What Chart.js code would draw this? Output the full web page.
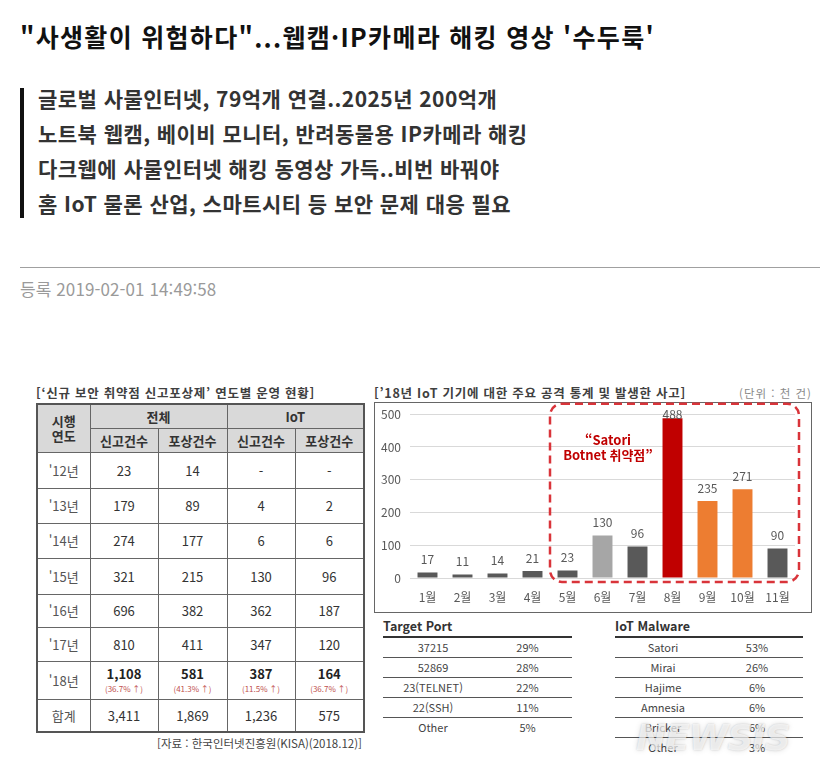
<!DOCTYPE html>
<html lang="ko">
<head>
<meta charset="utf-8">
<script src="https://cdn.jsdelivr.net/npm/chart.js@4.4.0/dist/chart.umd.min.js"></script>
<style>
  html, body { margin:0; padding:0; background:#fff; }
  body { width:827px; height:766px; position:relative; overflow:hidden;
         font-family:"Noto Sans CJK KR","Noto Sans",sans-serif; color:#333; }
  .abs { position:absolute; white-space:nowrap; }
  #title { left:20px; top:19px; font-size:25px; font-weight:700; color:#111; line-height:34px; letter-spacing:1.3px; }
  #bar { left:20px; top:88px; width:4px; height:130px; background:#111; }
  #summary { left:38px; top:81px; font-size:21px; font-weight:700; color:#333; line-height:35px; letter-spacing:0.45px; }
  #rule { left:20px; top:267px; width:800px; height:1px; background:#a0a0a0; }
  #date { left:20px; top:278px; font-size:17px; color:#9a9a9a; line-height:22px; letter-spacing:0.1px; }
  .caption { font-size:12.5px; font-weight:700; color:#404040; line-height:15px; letter-spacing:0.75px; }
  #cap1 { left:36px; top:385px; }
  #cap2 { left:374px; top:385px; }
  #unit { left:712px; width:100px; text-align:right; top:386px; font-size:11.5px; color:#8a8a8a; line-height:14px; letter-spacing:1px; }
  #t1 { position:absolute; left:36px; top:403px; width:327px; border-collapse:collapse; table-layout:fixed;
        border:2px solid #555; font-size:13px; color:#333; }
  #t1 td, #t1 th { border:1px solid #666; text-align:center; padding:0; line-height:15px; }
  #t1 th { background:#d9d9d9; font-weight:700; color:#333; }
  #t1 td.yr { color:#555; }
  #t1 .big { font-weight:700; color:#222; }
  #t1 .grow { font-size:8px; color:#c0504d; line-height:10px; margin-top:3px; font-weight:400; }
  #src { left:140px; width:222px; text-align:right; top:736px; font-size:11.5px; color:#444; line-height:14px; }
  #chartBox { position:absolute; left:374px; top:402px; width:438px; height:211px; border:1px solid #666; box-sizing:border-box; }
  #chartBox canvas { position:absolute; left:0; top:-5px; }
  .mini-title { font-size:12.5px; font-weight:700; color:#333; line-height:16px; }
  .mini { position:absolute; }
  .mini .hd { border-bottom:2px solid #333; height:0; }
  .mini .row { display:flex; height:19px; border-bottom:1px solid #555; font-size:11px; color:#444; line-height:19px; }
  .mini .row.last { border-bottom:none; }
  .mini .row span { display:block; text-align:center; }
  #wm { left:636px; top:718px; font-family:"DejaVu Sans",sans-serif; font-size:36px; font-weight:900; font-style:italic;
        color:rgba(255,255,255,0.7); text-shadow:0 0 2px rgba(0,0,0,0.18), 0 0 6px rgba(0,0,0,0.12); letter-spacing:-1px; line-height:40px; }
</style>
</head>
<body>
<div id="title" class="abs">"사생활이 위험하다"...웹캠·IP카메라 해킹 영상 '수두룩'</div>
<div id="bar" class="abs"></div>
<div id="summary" class="abs">글로벌 사물인터넷, 79억개 연결..2025년 200억개<br>노트북 웹캠, 베이비 모니터, 반려동물용 IP카메라 해킹<br>다크웹에 사물인터넷 해킹 동영상 가득..비번 바꿔야<br>홈 IoT 물론 산업, 스마트시티 등 보안 문제 대응 필요</div>
<div id="rule" class="abs"></div>
<div id="date" class="abs">등록 2019-02-01 14:49:58</div>

<div id="cap1" class="abs caption">[‘신규 보안 취약점 신고포상제’ 연도별 운영 현황]</div>
<table id="t1"></table>
<div id="src" class="abs">[자료 : 한국인터넷진흥원(KISA)(2018.12)]</div>

<div id="cap2" class="abs caption">[’18년 IoT 기기에 대한 주요 공격 통계 및 발생한 사고]</div>
<div id="unit" class="abs">(단위 : 천 건)</div>
<div id="chartBox"><canvas id="c" width="436" height="214"></canvas></div>

<div id="portTitle" class="abs mini-title" style="left:383px;top:618px;">Target Port</div>
<div id="portTable" class="mini" style="left:383px;top:636px;width:189px;"></div>
<div id="malTitle" class="abs mini-title" style="left:615px;top:618px;">IoT Malware</div>
<div id="malTable" class="mini" style="left:615px;top:636px;width:188px;"></div>
<div id="wm" class="abs">NEWSIS</div>

<script>
// ---------- data ----------
const months = ['1월','2월','3월','4월','5월','6월','7월','8월','9월','10월','11월'];
const attacks = [17, 11, 14, 21, 23, 130, 96, 488, 235, 271, 90];
const yTickMin = 0, yTickMax = 500, yTickStep = 100;
const annotationLines = ['“Satori', 'Botnet 취약점”'];
const satoriFrom = '5월';

const years = ["'12년","'13년","'14년","'15년","'16년","'17년","'18년"];
const totalReports = ['23','179','274','321','696','810','1,108'];
const totalRewards = ['14','89','177','215','382','411','581'];
const iotReports   = ['-','4','6','130','362','347','387'];
const iotRewards   = ['-','2','6','96','187','120','164'];
const growth18     = ['(36.7% ↑)','(41.3% ↑)','(11.5% ↑)','(36.7% ↑)'];
const sumRow       = ['3,411','1,869','1,236','575'];

const ports      = ['37215','52869','23(TELNET)','22(SSH)','Other'];
const portShares = ['29%','28%','22%','11%','5%'];
const malware      = ['Satori','Mirai','Hajime','Amnesia','Bricker','Other'];
const malwareShares = ['53%','26%','6%','6%','6%','3%'];

// ---------- styles ----------
const DARK = '#595959', LIGHT = '#a6a6a6', RED = '#c00000', ORANGE = '#ed7d31';
const barColors = [DARK, DARK, DARK, DARK, DARK, LIGHT, DARK, RED, ORANGE, ORANGE, DARK];
const FONT = '"Noto Sans CJK KR","Noto Sans",sans-serif';

// ---------- left table ----------
(function(){
  const t = document.getElementById('t1');
  const widths = [53, 68, 69, 68, 69];
  let html = '<colgroup>' + widths.map(w => `<col style="width:${w}px">`).join('') + '</colgroup>';
  html += '<tr style="height:24px"><th rowspan="2">시행<br>연도</th><th colspan="2">전체</th><th colspan="2">IoT</th></tr>';
  html += '<tr style="height:24px"><th>신고건수</th><th>포상건수</th><th>신고건수</th><th>포상건수</th></tr>';
  const rowH = [36, 35, 35, 36, 33, 34, 38];
  years.forEach((y, i) => {
    const vals = [totalReports[i], totalRewards[i], iotReports[i], iotRewards[i]];
    const last = i === years.length - 1;
    html += `<tr style="height:${rowH[i]}px"><td class="yr">${y}</td>` +
      vals.map((v, j) => last ? `<td><div class="big">${v}</div><div class="grow">${growth18[j]}</div></td>` : `<td>${v}</td>`).join('') + '</tr>';
  });
  html += '<tr style="height:33px"><td class="yr">합계</td>' + sumRow.map(v => `<td>${v}</td>`).join('') + '</tr>';
  t.innerHTML = html;
})();

// ---------- mini tables ----------
function buildMini(id, names, shares, w1, w2) {
  const el = document.getElementById(id);
  let html = '<div class="hd"></div>';
  names.forEach((n, i) => {
    html += `<div class="row${i === names.length - 1 ? ' last' : ''}"><span style="width:${w1}px">${n}</span><span style="width:${w2}px">${shares[i]}</span></div>`;
  });
  el.innerHTML = html;
}
buildMini('portTable', ports, portShares, 100, 89);
buildMini('malTable', malware, malwareShares, 96, 92);

// ---------- chart ----------
const valueLabels = {
  id: 'valueLabels',
  afterDatasetsDraw(chart) {
    const ctx = chart.ctx, area = chart.chartArea;
    const meta = chart.getDatasetMeta(0);
    ctx.save();
    ctx.font = '12px ' + FONT;
    ctx.fillStyle = '#595959';
    ctx.textAlign = 'center';
    ctx.textBaseline = 'middle';
    meta.data.forEach((bar, i) => {
      const y = Math.max(bar.y - 13, area.top);
      ctx.fillText(String(chart.data.datasets[0].data[i]), bar.x, y);
    });
    ctx.restore();
  }
};

const satoriBox = {
  id: 'satoriBox',
  afterDatasetsDraw(chart) {
    const ctx = chart.ctx, area = chart.chartArea;
    const xs = chart.scales.x, ys = chart.scales.y;
    const idx = months.indexOf(satoriFrom);
    const half = (xs.getPixelForValue(1) - xs.getPixelForValue(0)) / 2;
    const left = xs.getPixelForValue(idx) - half;
    const right = area.right + 4;
    const top = ys.getPixelForValue(yTickMax) - 10.5;
    const bottom = ys.getPixelForValue(0) + 4;
    const r = 12;
    ctx.save();
    ctx.strokeStyle = '#d9343a';
    ctx.lineWidth = 2.5;
    ctx.setLineDash([8, 5]);
    ctx.beginPath();
    ctx.moveTo(left + r, top);
    ctx.lineTo(right - r, top);
    ctx.arcTo(right, top, right, top + r, r);
    ctx.lineTo(right, bottom - r);
    ctx.arcTo(right, bottom, right - r, bottom, r);
    ctx.lineTo(left + r, bottom);
    ctx.arcTo(left, bottom, left, bottom - r, r);
    ctx.lineTo(left, top + r);
    ctx.arcTo(left, top, left + r, top, r);
    ctx.closePath();
    ctx.stroke();
    ctx.setLineDash([]);
    ctx.fillStyle = '#c00000';
    ctx.font = 'bold 13px ' + FONT;
    ctx.textAlign = 'center';
    ctx.textBaseline = 'middle';
    const cx = left + 58;
    ctx.fillText(annotationLines[0], cx, ys.getPixelForValue(420));
    ctx.fillText(annotationLines[1], cx, ys.getPixelForValue(374));
    ctx.restore();
  }
};

new Chart(document.getElementById('c'), {
  type: 'bar',
  data: {
    labels: months,
    datasets: [{ data: attacks, backgroundColor: barColors, borderWidth: 0,
                 barPercentage: 0.57, categoryPercentage: 1.0 }]
  },
  options: {
    responsive: false,
    animation: false,
    devicePixelRatio: 1,
    layout: { padding: { top: 7, right: 16, left: 0, bottom: 0 } },
    plugins: { legend: { display: false }, tooltip: { enabled: false } },
    scales: {
      x: {
        grid: { display: false, drawTicks: false },
        border: { display: false },
        ticks: { color: '#595959', font: { size: 12, family: FONT }, padding: 12 },
        afterFit(s) { s.height = 34; }
      },
      y: {
        min: yTickMin, max: yTickMax,
        grid: { color: '#d9d9d9', drawTicks: false, lineWidth: 1 },
        border: { display: false },
        ticks: { stepSize: yTickStep, color: '#595959', font: { size: 12, family: FONT }, padding: 9 },
        afterFit(s) { s.width = 35; }
      }
    }
  },
  plugins: [valueLabels, satoriBox]
});
</script>
</body>
</html>
